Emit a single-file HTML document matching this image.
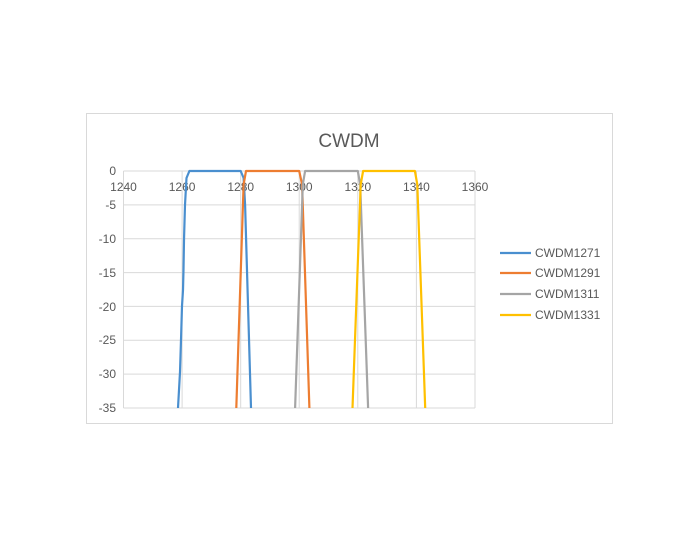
<!DOCTYPE html>
<html><head><style>body{margin:0;background:#fff}</style></head><body>
<svg width="700" height="537" xmlns="http://www.w3.org/2000/svg" font-family="Liberation Sans, sans-serif">
<rect x="86.5" y="113.5" width="526" height="310" fill="#fff" stroke="#d9d9d9"/>
<text x="349" y="147" font-size="19" fill="#595959" text-anchor="middle">CWDM</text>
<g stroke="#d9d9d9" stroke-width="1">
<line x1="123.5" y1="171" x2="475" y2="171"/>
<line x1="123.5" y1="204.9" x2="475" y2="204.9"/>
<line x1="123.5" y1="238.7" x2="475" y2="238.7"/>
<line x1="123.5" y1="272.6" x2="475" y2="272.6"/>
<line x1="123.5" y1="306.4" x2="475" y2="306.4"/>
<line x1="123.5" y1="340.3" x2="475" y2="340.3"/>
<line x1="123.5" y1="374.1" x2="475" y2="374.1"/>
<line x1="123.5" y1="408" x2="475" y2="408"/>
<line x1="123.5" y1="171" x2="123.5" y2="408"/>
<line x1="182.1" y1="171" x2="182.1" y2="408"/>
<line x1="240.7" y1="171" x2="240.7" y2="408"/>
<line x1="299.2" y1="171" x2="299.2" y2="408"/>
<line x1="357.8" y1="171" x2="357.8" y2="408"/>
<line x1="416.4" y1="171" x2="416.4" y2="408"/>
<line x1="475" y1="171" x2="475" y2="408"/>
</g>
<g font-size="12" fill="#595959" text-anchor="end">
<text x="116" y="175">0</text><text x="116" y="209">-5</text><text x="116" y="243">-10</text>
<text x="116" y="277">-15</text><text x="116" y="311">-20</text><text x="116" y="344">-25</text>
<text x="116" y="378">-30</text><text x="116" y="412">-35</text>
</g>
<g font-size="12" fill="#595959" text-anchor="middle">
<text x="123.5" y="191">1240</text><text x="182.1" y="191">1260</text><text x="240.7" y="191">1280</text>
<text x="299.2" y="191">1300</text><text x="357.8" y="191">1320</text><text x="416.4" y="191">1340</text><text x="475" y="191">1360</text>
</g>
<g fill="none" stroke-width="2.2" stroke-linejoin="round">
<polyline stroke="#4a8fcf" points="178,408 179,390 180,372 181,340 182,306 183,290 183.5,270 184,240 185,205 186.5,178 189.4,171 240.7,171 243.6,178 245.1,205 251,408"/>
<polyline stroke="#ed7d31" points="236.3,408 243.6,184.5 246,171 299.2,171 302.1,184.5 309.4,408"/>
<polyline stroke="#a5a5a5" points="295.1,408 302.8,184.5 305.1,171 357.8,171 360.2,184.5 368.1,408"/>
<polyline stroke="#ffc000" points="352.5,408 360.7,184.5 363.1,171 414.9,171 417.3,184.5 425.2,408"/>
</g>
<g stroke-width="2.2">
<line x1="500" y1="253" x2="531" y2="253" stroke="#4a8fcf"/>
<line x1="500" y1="273" x2="531" y2="273" stroke="#ed7d31"/>
<line x1="500" y1="294" x2="531" y2="294" stroke="#a5a5a5"/>
<line x1="500" y1="315" x2="531" y2="315" stroke="#ffc000"/>
</g>
<g font-size="12" fill="#595959">
<text x="535" y="257">CWDM1271</text><text x="535" y="277">CWDM1291</text>
<text x="535" y="298">CWDM1311</text><text x="535" y="319">CWDM1331</text>
</g>
</svg>
</body></html>
